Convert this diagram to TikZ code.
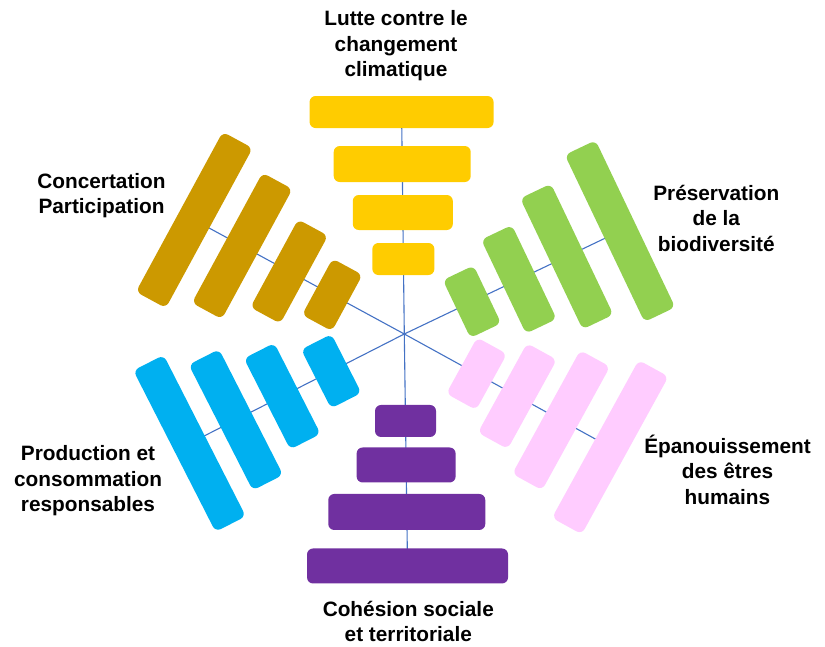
\documentclass[tikz,border=0pt]{standalone}
\usepackage{fontspec}
\setmainfont{Liberation Sans}
\usetikzlibrary{calc,backgrounds}
\definecolor{cY}{HTML}{FFCC00}
\definecolor{cBr}{HTML}{CC9900}
\definecolor{cG}{HTML}{92D050}
\definecolor{cPk}{HTML}{FFCCFF}
\definecolor{cPu}{HTML}{7030A0}
\definecolor{cBl}{HTML}{00B0F0}
\definecolor{cLine}{HTML}{4472C4}
\tikzset{
  bar/.style={rounded corners=6pt, inner sep=0pt, outer sep=0pt, draw=none},
  axisline/.style={draw=cLine, line width=1.1pt},
  lbl/.style={font=\fontsize{20.8}{25.5}\selectfont\bfseries, align=center, inner sep=0pt, anchor=base},
}
\begin{document}
\begin{tikzpicture}[x=1pt,y=1pt]
\useasboundingbox (0,0) rectangle (825,-647);
\coordinate (c) at (404.3,-334);
% yellow (top)
\foreach \i/\d/\l/\h in {1/75/62/32,2/121.5/100/35,3/170/137/36,4/222/184/32}
  \node[bar, fill=cY, minimum width=\l pt, minimum height=\h pt] (y\i) at ($(c)+(90.7:\d)$) {};
% purple (bottom)
\foreach \i/\d/\l/\h in {1/87/61/32,2/131/99/35,3/178/157/36,4/232/201/35}
  \node[bar, fill=cPu, minimum width=\l pt, minimum height=\h pt] (u\i) at ($(c)+(-89.2:\d)$) {};
% green (upper right)
\foreach \i/\d/\l in {1/75/64,2/127/104,3/180/145,4/239/185}
  \node[bar, fill=cG, minimum width=\l pt, minimum height=34pt, rotate=-64.5] (g\i) at ($(c)+(25.5:\d)$) {};
% pink (lower right)
\foreach \i/\d/\l in {1/82.5/64,2/129/102,3/179/141,4/235/180}
  \node[bar, fill=cPk, minimum width=\l pt, minimum height=34pt, rotate=-118.8] (p\i) at ($(c)+(-28.8:\d)$) {};
% blue (lower left)
\foreach \i/\d/\l in {1/82/66,2/137/102,3/189/141,4/241/181}
  \node[bar, fill=cBl, minimum width=\l pt, minimum height=34pt, rotate=-243] (b\i) at ($(c)+(-153:\d)$) {};
% brown (upper left)
\foreach \i/\d/\l in {1/82/64,2/131/100,3/184.5/148,4/239/182}
  \node[bar, fill=cBr, minimum width=\l pt, minimum height=34pt, rotate=61.5] (r\i) at ($(c)+(151.5:\d)$) {};
\begin{scope}[on background layer]
  \draw[axisline] (y4.center) -- (c) -- (u4.center);
  \draw[axisline] (c) -- (g4.center);
  \draw[axisline] (c) -- (p4.center);
  \draw[axisline] (c) -- (b4.center);
  \draw[axisline] (c) -- (r4.center);
\end{scope}
% labels (anchor = baseline of last line)
\node[lbl] (ly) at (396,-76.7) {Lutte contre le\\changement\\climatique};
\node[lbl] (lg) at (716.3,-251.5) {Préservation\\de la\\biodiversité};
\node[lbl] (lp) at (727.5,-504) {Épanouissement\\des êtres\\humains};
\node[lbl] (lu) at (408.3,-641.7) {Cohésion sociale\\et territoriale};
\node[lbl] (lb) at (88,-511.5) {Production et\\consommation\\responsables};
\node[lbl] (lr) at (101.5,-214) {Concertation\\Participation};
\end{tikzpicture}
\end{document}
